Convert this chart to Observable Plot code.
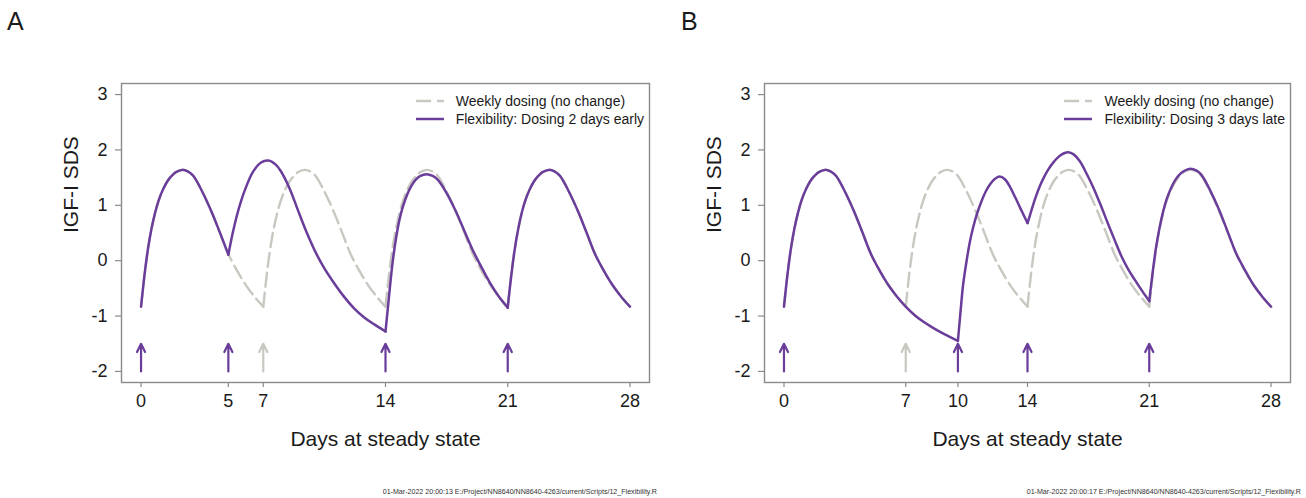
<!DOCTYPE html>
<html><head><meta charset="utf-8">
<script src="https://cdn.jsdelivr.net/npm/d3@7"></script>
<script src="https://cdn.jsdelivr.net/npm/@observablehq/plot@0.6"></script>
<style>
body{margin:0;background:#fff;font-family:"Liberation Sans",Arial,sans-serif;color:#1a1a1a}
#wrap{position:relative;width:1306px;height:498px;overflow:hidden;background:#fff}
.panel{position:absolute;top:0;width:653px;height:498px}
.panel svg{position:absolute;left:0;top:0}
.tag{position:absolute;top:9px;font-size:25px;line-height:25px;color:#1a1a1a}
.legend{position:absolute;top:92px;display:grid;grid-template-columns:28px auto;column-gap:12px;font-size:14px;line-height:18px;color:#1a1a1a;white-space:nowrap}
.legend svg{position:static;display:block}
.foot{position:absolute;top:488px;font-size:7.1px;line-height:8px;color:#333;white-space:nowrap}
</style>
</head><body>
<div id="wrap"></div>
<script>
// ---- data ----
const yTicks = [-2, -1, 0, 1, 2, 3];
const xTicksA = [0, 5, 7, 14, 21, 28];
const xTicksB = [0, 7, 10, 14, 21, 28];
const xLabel = "Days at steady state";
const yLabel = "IGF-I SDS";
const weeklyName = "Weekly dosing (no change)";
const flexNameA = "Flexibility: Dosing 2 days early";
const flexNameB = "Flexibility: Dosing 3 days late";
const footA = "01-Mar-2022 20:00:13 E:/Project/NN8640/NN8640-4263/current/Scripts/12_Flexibility.R";
const footB = "01-Mar-2022 20:00:17 E:/Project/NN8640/NN8640-4263/current/Scripts/12_Flexibility.R";

// weekly dosing (grey dashed), identical in both panels
const weeklyDoses = [0, 7, 14, 21];
const weeklyDays = [
  0,0.2,0.4,0.6,0.8,1.0,1.25,1.5,1.75,2.0,2.35,2.7,3.0,3.5,4.0,4.5,5.0,5.5,6.0,6.5,7.0,
  7.2,7.4,7.6,7.8,8.0,8.25,8.5,8.75,9.0,9.35,9.7,10.0,10.5,11.0,11.5,12.0,12.5,13.0,13.5,14.0,
  14.2,14.4,14.6,14.8,15.0,15.25,15.5,15.75,16.0,16.35,16.7,17.0,17.5,18.0,18.5,19.0,19.5,20.0,20.5,21.0,
  21.2,21.4,21.6,21.8,22.0,22.25,22.5,22.75,23.0,23.35,23.7,24.0,24.5,25.0,25.5,26.0,26.5,27.0,27.5,28.0];
const weeklySds = [
  -0.83,-0.25,0.22,0.58,0.86,1.08,1.28,1.43,1.53,1.60,1.64,1.61,1.53,1.25,0.91,0.52,0.12,-0.18,-0.44,-0.65,-0.83,
  -0.25,0.22,0.58,0.86,1.08,1.28,1.43,1.53,1.60,1.64,1.61,1.53,1.25,0.91,0.52,0.12,-0.18,-0.44,-0.65,-0.83,
  -0.25,0.22,0.58,0.86,1.08,1.28,1.43,1.53,1.60,1.64,1.61,1.53,1.25,0.91,0.52,0.12,-0.18,-0.44,-0.65,-0.83,
  -0.25,0.22,0.58,0.86,1.08,1.28,1.43,1.53,1.60,1.64,1.61,1.53,1.25,0.91,0.52,0.12,-0.18,-0.44,-0.65,-0.83];

// Panel A: dosing 2 days early (doses at 0, 5, 14, 21)
const flexDosesA = [0, 5, 14, 21];
const flexDaysA = [
  0,0.2,0.4,0.6,0.8,1.0,1.25,1.5,1.75,2.0,2.35,2.7,3.0,3.5,4.0,4.5,5.0,
  5.25,5.5,5.75,6.0,6.4,6.85,7.3,7.7,8.0,8.5,9.0,9.5,10.0,10.5,11.0,11.6,12.2,12.8,13.4,14.0,
  14.2,14.4,14.6,14.8,15.0,15.25,15.5,15.75,16.0,16.35,16.7,17.0,17.5,18.0,18.5,19.0,19.5,20.0,20.5,21.0,
  21.2,21.4,21.6,21.8,22.0,22.25,22.5,22.75,23.0,23.35,23.7,24.0,24.5,25.0,25.5,26.0,26.5,27.0,27.5,28.0];
const flexSdsA = [
  -0.83,-0.25,0.22,0.58,0.86,1.08,1.28,1.43,1.53,1.60,1.64,1.61,1.53,1.25,0.91,0.52,0.11,
  0.50,0.83,1.10,1.32,1.60,1.77,1.81,1.74,1.62,1.31,0.90,0.50,0.15,-0.14,-0.38,-0.64,-0.86,-1.03,-1.16,-1.28,
  -0.65,-0.05,0.40,0.74,0.98,1.20,1.36,1.47,1.53,1.56,1.53,1.46,1.22,0.91,0.55,0.19,-0.12,-0.41,-0.65,-0.85,
  -0.28,0.20,0.57,0.86,1.08,1.28,1.43,1.53,1.60,1.64,1.61,1.53,1.25,0.91,0.52,0.12,-0.18,-0.44,-0.65,-0.83];

// Panel B: dosing 3 days late (doses at 0, 10, 14, 21)
const flexDosesB = [0, 10, 14, 21];
const flexDaysB = [
  0,0.2,0.4,0.6,0.8,1.0,1.25,1.5,1.75,2.0,2.35,2.7,3.0,3.5,4.0,4.5,5.0,5.5,6.0,6.5,7.0,7.5,8.0,8.5,9.0,9.5,10.0,
  10.15,10.3,10.5,10.7,10.9,11.1,11.35,11.6,11.85,12.1,12.4,12.7,13.0,13.3,13.6,14.0,
  14.2,14.45,14.7,14.95,15.2,15.5,15.8,16.1,16.35,16.65,17.0,17.4,17.8,18.2,18.6,19.0,19.4,19.8,20.2,20.6,21.0,
  21.2,21.4,21.6,21.8,22.0,22.25,22.5,22.75,23.0,23.35,23.7,24.0,24.5,25.0,25.5,26.0,26.5,27.0,27.5,28.0];
const flexSdsB = [
  -0.83,-0.25,0.22,0.58,0.86,1.08,1.28,1.43,1.53,1.60,1.64,1.61,1.53,1.25,0.91,0.52,0.12,-0.18,-0.44,-0.65,-0.83,-0.98,-1.10,-1.20,-1.29,-1.37,-1.45,
  -0.92,-0.43,0.0,0.36,0.63,0.85,1.07,1.25,1.38,1.47,1.52,1.47,1.33,1.14,0.94,0.68,
  0.88,1.13,1.34,1.51,1.65,1.78,1.88,1.94,1.96,1.92,1.80,1.57,1.31,1.01,0.69,0.38,0.08,-0.16,-0.36,-0.55,-0.73,
  -0.20,0.26,0.61,0.89,1.11,1.31,1.46,1.56,1.62,1.66,1.63,1.55,1.27,0.93,0.53,0.13,-0.17,-0.44,-0.65,-0.83];

// dose arrows
const arrowBase = -2;
const arrowTip = -1.5;
const arrowsFlexA = [0, 5, 14, 21];
const arrowsMissedA = [7];
const arrowsFlexB = [0, 10, 14, 21];
const arrowsMissedB = [7];

// ---- styles ----
const PURPLE = "#6a3d9a";
const GREY = "#c8c7c0";
const AXIS = "#8a8a8a";
const INK = "#1a1a1a";
const FONT = "'Liberation Sans', Arial, sans-serif";

// split a series into dose-to-dose segments (dose days belong to both neighbours)
function segments(days, sds, doses) {
  const rows = [];
  days.forEach((d, i) => {
    let seg = 0;
    for (let k = 0; k < doses.length; k++) if (d > doses[k]) seg = k;
    rows.push({day: d, sds: sds[i], seg});
    if (doses.includes(d) && d > 0) rows.push({day: d, sds: sds[i], seg: doses.indexOf(d)});
  });
  return rows;
}

function makePanel(cfg) {
  const grey = segments(weeklyDays, weeklySds, weeklyDoses);
  const flex = segments(cfg.days, cfg.sds, cfg.doses);
  const plot = Plot.plot({
    width: 653, height: 498,
    marginLeft: cfg.ml, marginRight: cfg.mr, marginTop: 83, marginBottom: 116,
    x: {domain: [-1.12, 29.12]},
    y: {domain: [-2.2, 3.2]},
    style: {fontFamily: FONT, fontSize: "18px", background: "transparent", color: INK, overflow: "visible"},
    marks: [
      Plot.frame({stroke: AXIS, strokeWidth: 1.4}),
      Plot.axisY(yTicks, {tickSize: 6, tickPadding: 8, stroke: AXIS, fill: INK, fontSize: 18, label: null, strokeWidth: 1.2, tickFormat: d => String(d)}),
      Plot.axisX(cfg.xTicks, {tickSize: 5, tickPadding: 7, stroke: AXIS, fill: INK, fontSize: 18, label: null, strokeWidth: 1.2, tickFormat: d => String(d)}),
      Plot.line(grey, {x: "day", y: "sds", z: "seg", curve: "catmull-rom", stroke: GREY, strokeWidth: 2.4, strokeDasharray: "14,6"}),
      Plot.line(flex, {x: "day", y: "sds", z: "seg", curve: "catmull-rom", stroke: PURPLE, strokeWidth: 2.5}),
      Plot.arrow(cfg.missed, {x1: d => d, x2: d => d, y1: () => arrowBase, y2: () => arrowTip, stroke: GREY, strokeWidth: 2.2, headLength: 10, headAngle: 52}),
      Plot.arrow(cfg.arrows, {x1: d => d, x2: d => d, y1: () => arrowBase, y2: () => arrowTip, stroke: PURPLE, strokeWidth: 2.2, headLength: 10, headAngle: 52}),
      Plot.text([xLabel], {frameAnchor: "bottom", dy: 56.5, fontSize: 21, fill: INK, lineAnchor: "middle"}),
      Plot.text([yLabel], {frameAnchor: "left", dx: -50, rotate: -90, fontSize: 21, fill: INK, lineAnchor: "middle"})
    ]
  });
  const panel = document.createElement("div");
  panel.className = "panel";
  panel.style.left = cfg.left + "px";
  panel.appendChild(plot);

  const tag = document.createElement("div");
  tag.className = "tag";
  tag.style.left = cfg.tagLeft + "px";
  tag.textContent = cfg.tag;
  panel.appendChild(tag);

  const legend = document.createElement("div");
  legend.className = "legend";
  legend.style.right = (cfg.mr + 5) + "px";
  legend.innerHTML =
    `<svg width="28" height="18"><line x1="0" x2="28" y1="9" y2="9" stroke="${GREY}" stroke-width="2.4" stroke-dasharray="15,6"/></svg><div>${weeklyName}</div>` +
    `<svg width="28" height="18"><line x1="0" x2="28" y1="9" y2="9" stroke="${PURPLE}" stroke-width="2.5"/></svg><div>${cfg.name}</div>`;
  panel.appendChild(legend);
  document.getElementById("wrap").appendChild(panel);

  const foot = document.createElement("div");
  foot.className = "foot";
  foot.style.right = cfg.footRight + "px";
  foot.textContent = cfg.foot;
  document.getElementById("wrap").appendChild(foot);
}

makePanel({left: 0, ml: 121, mr: 4, xTicks: xTicksA, days: flexDaysA, sds: flexSdsA, doses: flexDosesA,
  arrows: arrowsFlexA, missed: arrowsMissedA, tag: "A", tagLeft: 7, name: flexNameA, foot: footA, footRight: 649});
makePanel({left: 653, ml: 111, mr: 16, xTicks: xTicksB, days: flexDaysB, sds: flexSdsB, doses: flexDosesB,
  arrows: arrowsFlexB, missed: arrowsMissedB, tag: "B", tagLeft: 28, name: flexNameB, foot: footB, footRight: 5});
</script>
</body></html>
